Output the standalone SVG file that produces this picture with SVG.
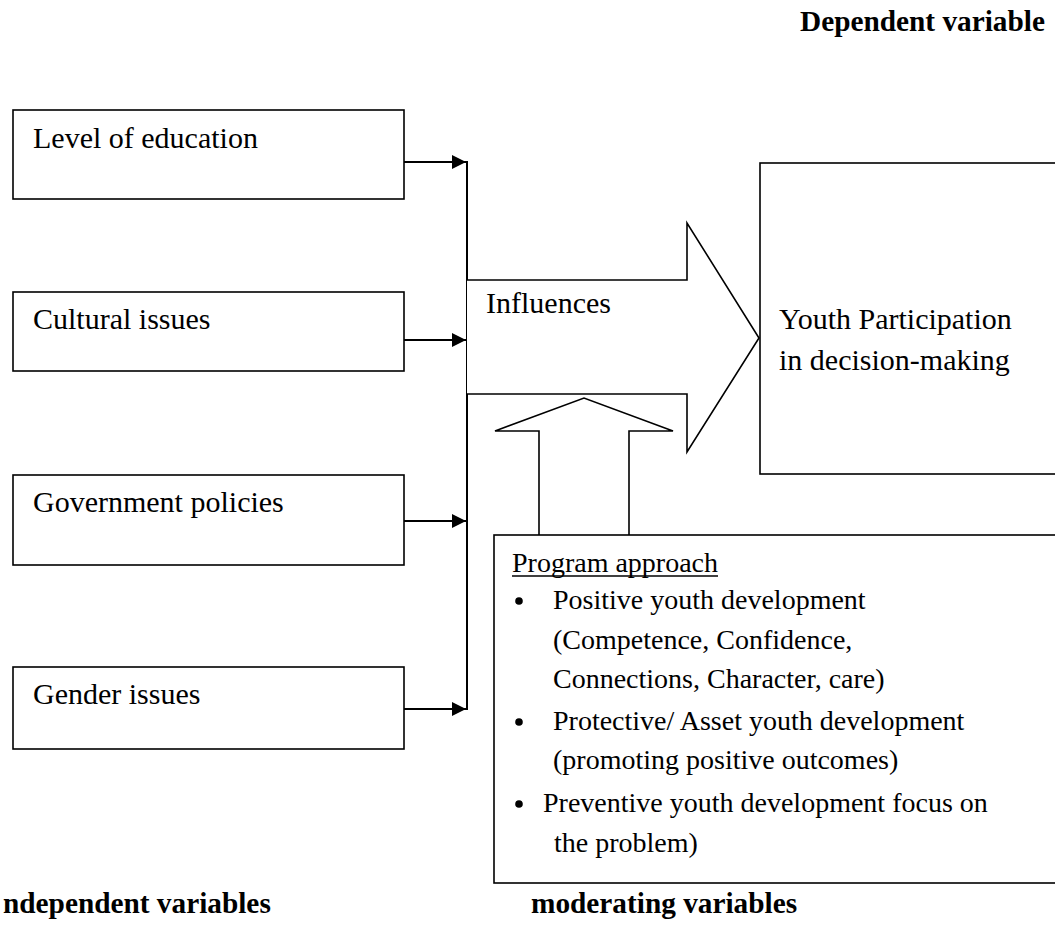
<svg xmlns="http://www.w3.org/2000/svg" width="1055" height="936" viewBox="0 0 1055 936" font-family="Liberation Serif, serif">
<style>
.box{fill:#fff;stroke:#000;stroke-width:1.6}
.t{font-family:'Liberation Serif','Times New Roman',serif;font-size:30px;fill:#000}
.s{font-family:'Liberation Serif','Times New Roman',serif;font-size:28px;fill:#000}
.b{font-family:'Liberation Serif','Times New Roman',serif;font-size:29.3px;font-weight:bold;fill:#000}
.ln{fill:none;stroke:#000;stroke-width:2}
.shape{fill:#fff;stroke:#000;stroke-width:1.6;stroke-linejoin:miter}
.dot{fill:#000}
</style>
<defs>
<marker id="ah" markerWidth="14" markerHeight="14" refX="14" refY="7" orient="auto" markerUnits="userSpaceOnUse">
<path d="M0,0 L14,7 L0,14 Z" fill="#000"/>
</marker>
</defs>
<rect width="1055" height="936" fill="#fff"/>

<g id="label-dependent"><text class="b" x="800" y="31">Dependent variable</text></g>

<g id="node-education"><rect class="box" x="13" y="110" width="391" height="89"/><text class="t" x="33" y="148">Level of education</text></g>
<g id="node-cultural"><rect class="box" x="13" y="292" width="391" height="79"/><text class="t" x="33" y="329">Cultural issues</text></g>
<g id="node-government"><rect class="box" x="13" y="475" width="391" height="90"/><text class="t" x="33" y="512">Government policies</text></g>
<g id="node-gender"><rect class="box" x="13" y="667" width="391" height="82"/><text class="t" x="33" y="704">Gender issues</text></g>

<g id="node-youth"><rect class="box" x="760" y="163" width="310" height="311"/><text class="t" x="779" y="329">Youth Participation</text><text class="t" x="779" y="370">in decision-making</text></g>

<g id="connectors">
<line class="ln" x1="404" y1="162" x2="466" y2="162" marker-end="url(#ah)"/>
<line class="ln" x1="404" y1="340" x2="466" y2="340" marker-end="url(#ah)"/>
<line class="ln" x1="404" y1="521" x2="466" y2="521" marker-end="url(#ah)"/>
<line class="ln" x1="404" y1="709" x2="466" y2="709" marker-end="url(#ah)"/>
<line class="ln" x1="467" y1="161" x2="467" y2="710"/>
</g>

<g id="node-influences">
<path class="shape" d="M467,280 L687,280 L687,223 L759,338 L687,452 L687,394 L467,394"/>
<text class="t" x="486" y="313">Influences</text>
</g>

<g id="node-program">
<path class="shape" d="M539,536 L539,431 L495,431 L584,398 L673,431 L629,431 L629,536"/>
<rect class="box" x="494" y="535" width="580" height="348"/>
<text class="s" x="512" y="572">Program approach</text>
<line x1="512" y1="576" x2="718" y2="576" stroke="#000" stroke-width="1.5"/>
<circle class="dot" cx="519" cy="601" r="3.8"/>
<text class="s" x="553" y="609">Positive youth development</text>
<text class="s" x="553" y="649">(Competence, Confidence,</text>
<text class="s" x="553" y="688">Connections, Character, care)</text>
<circle class="dot" cx="519" cy="722" r="3.8"/>
<text class="s" x="553" y="730">Protective/ Asset youth development</text>
<text class="s" x="553" y="769">(promoting positive outcomes)</text>
<circle class="dot" cx="519" cy="804" r="3.8"/>
<text class="s" x="543" y="812">Preventive youth development focus on</text>
<text class="s" x="554" y="852">the problem)</text>
</g>

<g id="label-independent"><text class="b" x="3" y="913">ndependent variables</text></g>
<g id="label-moderating"><text class="b" x="531" y="913">moderating variables</text></g>
</svg>
